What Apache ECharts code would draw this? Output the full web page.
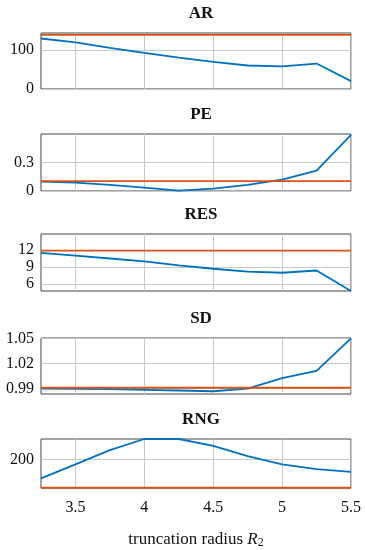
<!DOCTYPE html>
<html>
<head>
<meta charset="utf-8">
<script src="https://cdn.jsdelivr.net/npm/echarts@6/dist/echarts.min.js"></script>
<style>html,body{margin:0;padding:0;background:#fff}#c{width:365px;height:550px}</style>
</head>
<body>
<div id="c"></div>
<script>
const xs = [3.25, 3.5, 3.75, 4, 4.25, 4.5, 4.75, 5, 5.25, 5.5];
const xTicks = [3.5, 4, 4.5, 5, 5.5];
const titles = ['AR', 'PE', 'RES', 'SD', 'RNG'];

const arValues = [129, 119, 105, 92, 80, 69, 60, 58, 65, 20];
const arRef = 138;
const arTicks = [0, 100];

const peValues = [0.10, 0.089, 0.065, 0.036, 0.004, 0.025, 0.064, 0.12, 0.215, 0.59];
const peRef = 0.105;
const peTicks = [0, 0.3];

const resValues = [11.5, 11.0, 10.5, 10.0, 9.3, 8.7, 8.2, 8.0, 8.4, 4.8];
const resRef = 11.9;
const resTicks = [6, 9, 12];

const sdValues = [0.990, 0.9898, 0.9893, 0.9885, 0.9877, 0.9868, 0.990, 1.0024, 1.0111, 1.05];
const sdRef = 0.991;
const sdTicks = [0.99, 1.02, 1.05];

const rngValues = [159, 189, 220, 244, 244, 229, 207, 189, 179, 173];
const rngRef = 138.5;
const rngTicks = [200];

const panels = [
  {vals: arValues, ref: arRef, ticks: arTicks, min: 0, max: 143, top: 33, h: 56},
  {vals: peValues, ref: peRef, ticks: peTicks, min: 0, max: 0.6, top: 134, h: 57},
  {vals: resValues, ref: resRef, ticks: resTicks, min: 4.8, max: 14.8, top: 234, h: 57},
  {vals: sdValues, ref: sdRef, ticks: sdTicks, min: 0.9835, max: 1.0505, top: 338, h: 56},
  {vals: rngValues, ref: rngRef, ticks: rngTicks, min: 138, max: 244, top: 439, h: 53}
];

const font = 'Liberation Serif';
const blue = '#0072BD', red = '#D95319';

const grid = [], xAxis = [], yAxis = [], series = [], title = [];
panels.forEach((p, i) => {
  grid.push({left: 41, right: 14, top: p.top, height: p.h, show: true, borderColor: '#444', borderWidth: 1, backgroundColor: 'transparent'});
  title.push({text: titles[i], left: 196, textAlign: 'center', top: p.top - 33,
    textStyle: {fontFamily: font, fontWeight: 'bold', fontSize: 17, color: '#111'}});
  xAxis.push({type: 'value', gridIndex: i, min: 3.25, max: 5.5,
    axisLine: {show: false}, axisTick: {show: false, customValues: xTicks},
    axisLabel: {show: i === 4, customValues: xTicks, fontFamily: font, fontSize: 16, color: '#111', margin: 12},
    splitLine: {show: true, lineStyle: {color: '#c8c8c8', width: 1}}
  });
  yAxis.push({type: 'value', gridIndex: i, min: p.min, max: p.max,
    axisLine: {show: false}, axisTick: {show: false, customValues: p.ticks},
    axisLabel: {customValues: p.ticks, fontFamily: font, fontSize: 16, color: '#111', margin: 7},
    splitLine: {show: true, lineStyle: {color: '#c8c8c8', width: 1}}
  });
  series.push({type: 'line', xAxisIndex: i, yAxisIndex: i, data: xs.map((x, k) => [x, p.vals[k]]),
    showSymbol: false, symbol: 'none', lineStyle: {color: blue, width: 1.8}, z: 3});
  series.push({type: 'line', xAxisIndex: i, yAxisIndex: i, data: [[xs[0], p.ref], [xs[xs.length - 1], p.ref]],
    showSymbol: false, symbol: 'none', lineStyle: {color: red, width: 1.8}, z: 4});
});
xAxis[4].name = '{a|truncation radius }{i|R}{s|2}';
xAxis[4].nameLocation = 'middle';
xAxis[4].nameGap = 42;
xAxis[4].nameTextStyle = {fontFamily: font, fontSize: 17, color: '#111',
  rich: {a: {fontFamily: font, fontSize: 17, color: '#111'},
         i: {fontFamily: font, fontSize: 17, fontStyle: 'italic', color: '#111'},
         s: {fontFamily: font, fontSize: 12, color: '#111', verticalAlign: 'bottom', padding: [7, 0, 0, 0]}}};

const chart = echarts.init(document.getElementById('c'), null, {renderer: 'canvas'});
chart.setOption({animation: false, title, grid, xAxis, yAxis, series});
</script>
</body>
</html>
